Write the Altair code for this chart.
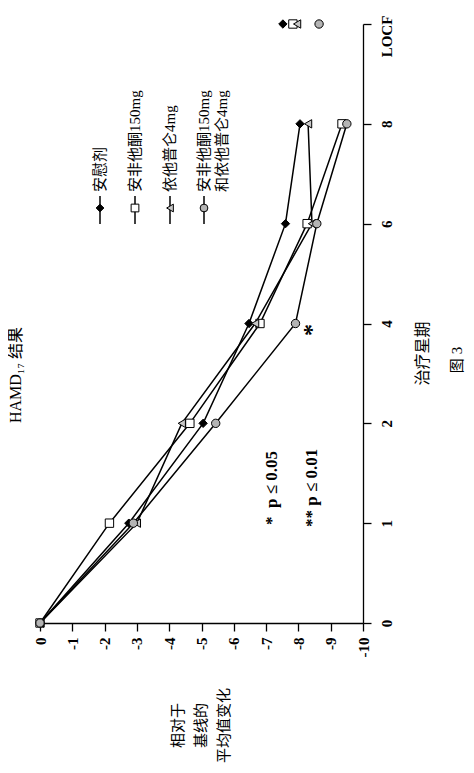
import json
import altair as alt
import pandas as pd

# ---------------- data ----------------
week_labels = ["0", "1", "2", "4", "6", "8", "LOCF"]
series_names = ["安慰剂", "安非他酮150mg", "依他普仑4mg", "安非他酮150mg和依他普仑4mg"]
legend_lines = [["安慰剂"], ["安非他酮150mg"], ["依他普仑4mg"], ["安非他酮150mg", "和依他普仑4mg"]]
placebo = [0, -2.75, -5.05, -6.47, -7.6, -8.05, -7.52]
bupropion = [0, -2.15, -4.64, -6.81, -8.27, -9.35, -7.83]
escitalopram = [0, -3.0, -4.39, -6.66, -8.42, -8.3, -7.96]
combination = [0, -2.89, -5.44, -7.91, -8.57, -9.5, -8.64]
value_ticks = list(range(0, -11, -1))

shapes = ["diamond", "square", "triangle-left", "circle"]
fills = ["black", "white", "#c8c8c8", "#b4b4b4"]

rows = []
for name, vals in zip(series_names, [placebo, bupropion, escitalopram, combination]):
    for i, (w, v) in enumerate(zip(week_labels, vals)):
        rows.append({"series": name, "week": w, "idx": i, "value": v})
df = pd.DataFrame(rows)
one = pd.DataFrame({"a": [0]})

FONT_LATIN = "Liberation Serif"
FONT_MIX = "Liberation Serif, Noto Sans CJK SC"
W, H = 323, 599
last_idx = len(week_labels) - 1

x_enc = alt.X(
    "value:Q",
    scale=alt.Scale(domain=[0, -10], nice=False, zero=False),
    axis=alt.Axis(
        values=value_ticks, labelExpr="'' + datum.value", labelAngle=270,
        labelAlign="right", labelBaseline="middle", labelFlush=False,
        labelOverlap=False, labelFont=FONT_LATIN, labelFontSize=15,
        labelFontWeight="bold", labelColor="black", labelPadding=6,
        tickSize=8, tickColor="black", tickWidth=1.3, domainColor="black",
        domainWidth=1.3, grid=False,
        title=["相对于", "基线的", "平均值变化"], titleAngle=270, titleX=137,
        titleY=102, titleAlign="center", titleBaseline="middle",
        titleFont=FONT_MIX, titleFontSize=15, titleFontWeight="normal",
        titleLineHeight=23, titleColor="black",
    ),
)
y_enc = alt.Y(
    "idx:Q",
    scale=alt.Scale(domain=[0, last_idx], nice=False, zero=False),
    axis=alt.Axis(
        orient="right", values=list(range(len(week_labels))),
        labelExpr=json.dumps(week_labels) + "[datum.value]", labelAngle=270,
        labelAlign="center", labelBaseline="top", labelFlush=False,
        labelOffset={"condition": {"test": f"datum.value == {last_idx}", "value": 12}, "value": 0},
        labelOverlap=False, labelFont=FONT_LATIN, labelFontSize=15,
        labelFontWeight="bold", labelColor="black", labelPadding=8,
        tickSize=8, tickColor="black", tickWidth=1.3, domainColor="black",
        domainWidth=1.3, grid=False,
        title="治疗星期", titleAngle=270, titleX=59, titleY=329,
        titleAlign="center", titleBaseline="middle", titleFont=FONT_MIX,
        titleFontSize=16, titleFontWeight="normal", titleColor="black",
    ),
)

base = alt.Chart(df)
lines = base.transform_filter("datum.week != 'LOCF'").mark_line(
    color="black", strokeWidth=1.5
).encode(x=x_enc, y=y_enc, detail="series:N", order="idx:Q")

points = base.mark_point(
    stroke="black", strokeWidth=1, opacity=1, fillOpacity=1, size=70
).encode(
    x=x_enc, y=y_enc,
    shape=alt.Shape("series:N", scale=alt.Scale(domain=series_names, range=shapes), legend=None),
    fill=alt.Fill("series:N", scale=alt.Scale(domain=series_names, range=fills), legend=None),
)


def txt(text, x, y, size, weight="normal", font=FONT_MIX, align="center"):
    return alt.Chart(one).mark_text(
        text=text, angle=270, align=align, baseline="middle", font=font,
        fontSize=size, fontWeight=weight, color="black",
    ).encode(x=alt.value(x), y=alt.value(y))


layers = [lines, points]

# legend (drawn rotated, like the reference)
leg_x = [60, 95, 130, 164]
for lx, shp, fl, lns in zip(leg_x, shapes, fills, legend_lines):
    layers.append(
        alt.Chart(one).mark_rule(color="black", strokeWidth=1.5).encode(
            x=alt.value(lx), y=alt.value(172), y2=alt.value(200)
        )
    )
    layers.append(
        alt.Chart(one).mark_point(
            shape=shp, fill=fl, stroke="black", strokeWidth=1, opacity=1,
            fillOpacity=1, size=60,
        ).encode(x=alt.value(lx), y=alt.value(184))
    )
    for k, ln in enumerate(lns):
        layers.append(txt(ln, lx + 18 * k, 168, 15, align="left"))

# annotations
layers.append(txt("HAMD\u2081\u2087 结果", -24, 351, 16))
layers.append(txt("图 3", 417, 336, 15))
layers.append(txt("*\u00a0\u00a0p ≤ 0.05", 232, 501, 17, weight="bold", font=FONT_LATIN, align="left"))
layers.append(txt("**\u00a0p ≤ 0.01", 272, 503, 17, weight="bold", font=FONT_LATIN, align="left"))
layers.append(txt("*", 272, 306, 24, weight="bold", font=FONT_LATIN))

chart = alt.layer(*layers).properties(
    width=W, height=H,
    autosize=alt.AutoSizeParams(type="none"),
    padding={"left": 32, "top": 16, "right": 103, "bottom": 142},
    background="white",
).configure_view(stroke=None)

chart.save("out.html", embed_options={"renderer": "svg", "actions": False})
